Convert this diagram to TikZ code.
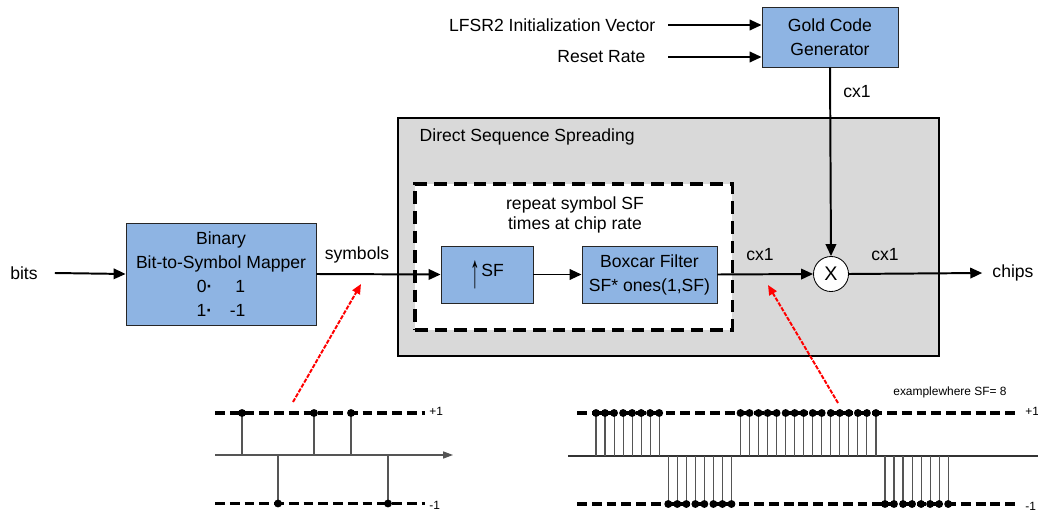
\documentclass[tikz,border=0pt]{standalone}
\usepackage{fontspec}
\setmainfont{Liberation Sans}
\usetikzlibrary{arrows.meta,calc}
\definecolor{boxblue}{RGB}{142,180,227}
\definecolor{boxgray}{RGB}{217,217,217}
\definecolor{stemgray}{RGB}{85,85,85}
\newcommand{\dgmfont}{\fontsize{12.5}{17}\selectfont}
\newcommand{\smallfnt}{\fontsize{8.5}{10}\selectfont}
\begin{document}
\begin{tikzpicture}[x=0.025cm,y=-0.025cm,
  blk/.style={draw=black!85, line width=0.6pt, fill=boxblue, align=center, inner sep=0pt, font=\dgmfont},
  arr/.style={line width=1.4pt, -{Triangle[length=8.5pt,width=7.5pt]}},
  lbl/.style={font=\dgmfont, inner sep=1pt},
  levdash/.style={line width=2.4pt, dash pattern=on 7pt off 3.5pt},
  stemline/.style={line width=0.8pt, draw=stemgray},
  redarr/.style={draw=red, line width=1.4pt, dash pattern=on 3pt off 1pt, -{Triangle[length=7pt,width=6pt,fill=red]}},
  tiny/.style={font=\smallfnt, inner sep=0pt}]
\useasboundingbox (0,0) rectangle (1038,512);

% ---- boxes ----
\node[draw, line width=1.8pt, fill=boxgray, minimum width=13.525cm, minimum height=5.95cm, inner sep=0pt] (dss) at (668.5,237) {};
\node[lbl, anchor=west] (dsslbl) at (418,137) {Direct Sequence Spreading};
\node[draw, fill=white, line width=2.2pt, dash pattern=on 9pt off 5pt, minimum width=7.925cm, minimum height=3.65cm, inner sep=0pt] (rep) at (573.5,257) {};
\node[lbl, align=center, font=\fontsize{12.5}{14.5}\selectfont] (replbl) at (575,215) {repeat symbol SF\\times at chip rate};

\node[blk, minimum width=4.75cm, minimum height=2.55cm] (map) at (221,274)
  {Binary\\Bit-to-Symbol Mapper\\0\textbf{·}\hspace{1.3em}1\\1\textbf{·}\hspace{1em}-1};
\node[blk, minimum width=2.3cm, minimum height=1.425cm] (up) at (487,274.5)
  {\raisebox{-0.6em}{\scalebox{1.1}[2.7]{↑}}\hspace{1pt}SF};
\node[blk, minimum width=3.375cm, minimum height=1.425cm] (box) at (649.5,274.5)
  {Boxcar Filter\\SF* ones(1,SF)};
\node[blk, minimum width=3.4cm, minimum height=1.5cm] (gold) at (830,37)
  {Gold Code\\Generator};
\node[draw=black, line width=0.6pt, fill=white, circle, minimum size=0.875cm, inner sep=0pt, font=\fontsize{14}{16}\selectfont] (mult) at (831,274) {X};

% ---- text labels ----
\node[lbl, inner sep=0.42cm] (bits) at (24,273) {bits};
\node[lbl, inner sep=0.25cm] (chips) at (1013,273) {chips};
\node[lbl] (symlbl) at (357,255) {symbols};
\node[lbl] (cxa) at (760,255) {cx1};
\node[lbl] (cxb) at (885,255) {cx1};
\node[lbl] (cxc) at (857,92) {cx1};
\node[lbl, anchor=east] (lfsr) at (657,25) {LFSR2 Initialization Vector};
\node[lbl, anchor=east] (rst) at (647,57) {Reset Rate};
\coordinate (t1) at (668,25);
\coordinate (t2) at (668,57);

% ---- connectors ----
\draw[arr] (bits.east) -- (map.west);
\draw[arr] (map.east) -- (up.west);
\draw[arr] (up.east) -- (box.west);
\draw[arr] (box.east) -- (mult.west);
\draw[arr] (mult.east) -- (chips.west);
\draw[arr] (gold.south) -- (mult.north);
\draw[arr] (t1) -- (t1 -| gold.west);
\draw[arr] (t2) -- (t2 -| gold.west);

% ---- red pointers ----
\coordinate (r1t) at (293,402);
\coordinate (r1h) at (361,284);
\coordinate (r2t) at (838,403);
\coordinate (r2h) at (768,285);
\draw[redarr] (r1t) -- (r1h);
\draw[redarr] (r2t) -- (r2h);

% ---- left stem plot ----
\draw[levdash] (215,413) -- (425,413);
\draw[levdash] (215,503.5) -- (425,503.5);
\draw[line width=0.8pt, draw=stemgray, -{Triangle[length=7pt,width=5pt]}] (215,455) -- (453,455);
\foreach \x/\v in {242/413, 278/503.5, 314/413, 351/413, 388/503.5}{
  \draw[stemline] (\x,455) -- (\x,\v);
  \fill (\x,\v) circle[radius=2.8pt];
}
\node[tiny, anchor=west] (lp) at (429,411) {+1};
\node[tiny, anchor=west] (lm) at (429,505) {-1};

% ---- right stem plot ----
\draw[levdash] (577,413) -- (1017,413);
\draw[levdash] (577,504) -- (1017,504);
\draw[line width=0.8pt, draw=black!80] (568,456) -- (1040,456);
\foreach \k in {0,...,7,16,17,18,19,20,21,22,23,24,25,26,27,28,29,30,31}{
  \draw[stemline] ({596+9.03*\k},456) -- ({596+9.03*\k},413);
  \fill ({596+9.03*\k},413) circle[radius=2.8pt];
}
\foreach \k in {8,...,15,32,33,34,35,36,37,38,39}{
  \draw[stemline] ({596+9.03*\k},456) -- ({596+9.03*\k},504);
  \fill ({596+9.03*\k},504) circle[radius=2.8pt];
}
\node[tiny, anchor=west] (rp) at (1025,411) {+1};
\node[tiny, anchor=west] (rm) at (1025,506) {-1};
\node[tiny] (ex) at (950,392) {examplewhere SF= 8};
\end{tikzpicture}
\end{document}
